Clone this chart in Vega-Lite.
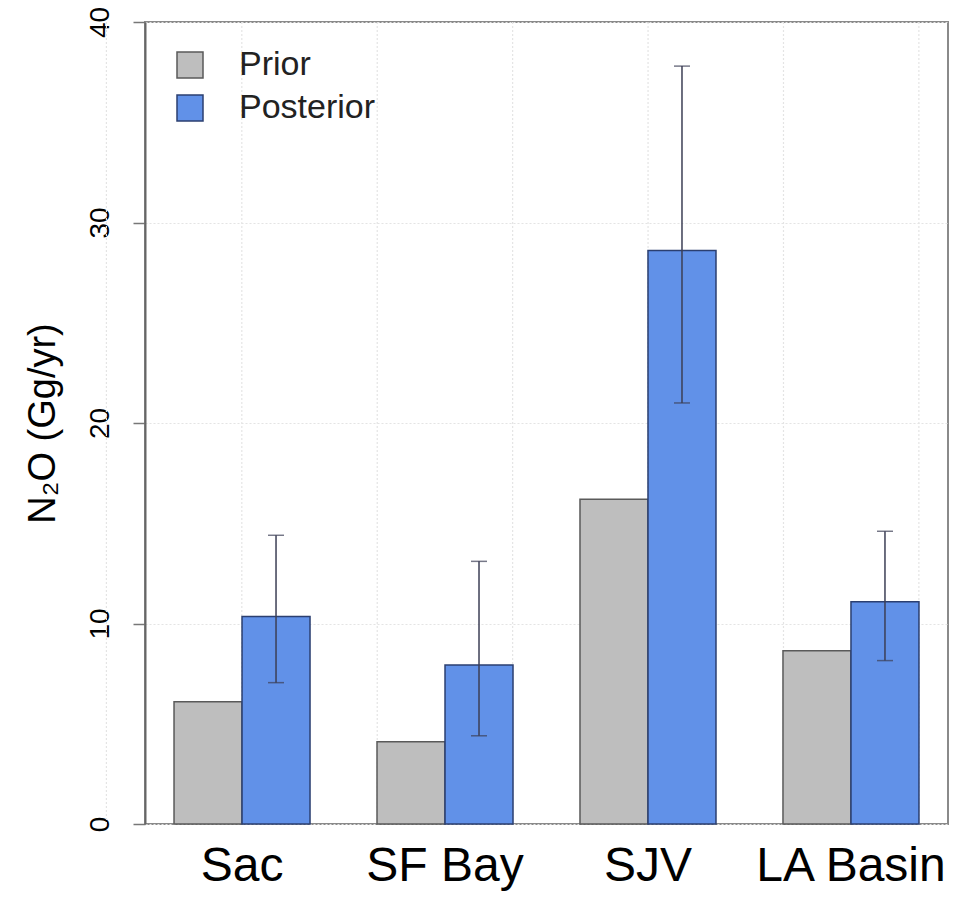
{
  "$schema": "https://vega.github.io/schema/vega-lite/v6.json",
  "width": 803,
  "height": 802,
  "autosize": "none",
  "padding": {"left": 145, "top": 22, "right": 25, "bottom": 77},
  "background": "white",
  "config": {
    "font": "Liberation Sans",
    "view": {"stroke": "#8a8a8a", "strokeWidth": 2}
  },
  "datasets": {
    "bars": [
      {"region": "Sac", "type": "Prior", "value": 6.1, "lo": null, "hi": null},
      {"region": "Sac", "type": "Posterior", "value": 10.35, "lo": 7.05, "hi": 14.4},
      {"region": "SF Bay", "type": "Prior", "value": 4.1, "lo": null, "hi": null},
      {"region": "SF Bay", "type": "Posterior", "value": 7.93, "lo": 4.4, "hi": 13.1},
      {"region": "SJV", "type": "Prior", "value": 16.2, "lo": null, "hi": null},
      {"region": "SJV", "type": "Posterior", "value": 28.6, "lo": 21.0, "hi": 37.8},
      {"region": "LA Basin", "type": "Prior", "value": 8.64, "lo": null, "hi": null},
      {"region": "LA Basin", "type": "Posterior", "value": 11.09, "lo": 8.15, "hi": 14.6}
    ],
    "grid": [{"g": 0}, {"g": 2}, {"g": 4}, {"g": 6}, {"g": 8}, {"g": 10}, {"g": 12}]
  },
  "layer": [
    {
      "data": {"name": "grid"},
      "mark": {"type": "rule", "color": "#e4e4e4", "strokeWidth": 1.2, "strokeDash": [2, 2]},
      "encoding": {
        "x": {"field": "g", "type": "quantitative", "scale": {"domain": [0.57, 12.43], "nice": false, "zero": false}, "axis": null}
      }
    },
    {
      "data": {"name": "bars"},
      "layer": [
        {
          "mark": {"type": "bar", "strokeWidth": 1.5},
          "encoding": {
            "x": {
              "field": "region", "type": "nominal", "sort": ["Sac", "SF Bay", "SJV", "LA Basin"],
              "scale": {"paddingInner": 0.33, "paddingOuter": 0.143},
              "axis": {"title": null, "domain": false, "ticks": false, "labelAngle": 0, "labelFontSize": 48, "labelColor": "#000", "labelPadding": 18, "labelLimit": 0, "labelOverlap": false, "grid": false}
            },
            "xOffset": {"field": "type", "type": "nominal", "sort": ["Prior", "Posterior"], "scale": {"domain": ["Prior", "Posterior"], "paddingInner": 0, "paddingOuter": 0}},
            "y": {
              "field": "value", "type": "quantitative",
              "scale": {"domain": [0, 40], "nice": false},
              "axis": {
                "values": [0, 10, 20, 30, 40],
                "title": "N₂O (Gg/yr)", "titleFontSize": 38, "titleFontWeight": "normal", "titleColor": "#000", "titlePadding": 24,
                "labelAngle": -90, "labelAlign": "center", "labelBaseline": "alphabetic", "labelFontSize": 28, "labelColor": "#000", "labelPadding": 25,
                "tickSize": 12, "tickColor": "#777", "tickWidth": 1.5,
                "domainColor": "#666", "domainWidth": 2,
                "grid": true, "gridColor": "#e4e4e4", "gridDash": [2, 2], "gridWidth": 1.2
              }
            },
            "fill": {
              "field": "type", "type": "nominal",
              "scale": {"domain": ["Prior", "Posterior"], "range": ["#bebebe", "#6191e8"]},
              "legend": {
                "title": null, "orient": "none", "legendX": 28, "legendY": 26,
                "symbolType": "square", "symbolSize": 676, "symbolStrokeWidth": 1.5,
                "labelFontSize": 34, "labelColor": "#222", "labelOffset": 32, "rowPadding": 9
              }
            },
            "stroke": {
              "field": "type", "type": "nominal",
              "scale": {"domain": ["Prior", "Posterior"], "range": ["#5a5a5a", "#2b3f70"]},
              "legend": {
                "title": null, "orient": "none", "legendX": 28, "legendY": 26,
                "symbolType": "square", "symbolSize": 676, "symbolStrokeWidth": 1.5,
                "labelFontSize": 34, "labelColor": "#222", "labelOffset": 32, "rowPadding": 9
              }
            }
          }
        },
        {
          "transform": [{"filter": "datum.type === 'Posterior'"}],
          "mark": {"type": "rule", "color": "#3c3f55", "strokeWidth": 1.5},
          "encoding": {
            "x": {"field": "region", "type": "nominal", "sort": ["Sac", "SF Bay", "SJV", "LA Basin"]},
            "xOffset": {"field": "type", "type": "nominal"},
            "y": {"field": "lo", "type": "quantitative"},
            "y2": {"field": "hi"}
          }
        },
        {
          "transform": [{"filter": "datum.type === 'Posterior'"}],
          "mark": {"type": "tick", "color": "#3c3f55", "size": 16, "thickness": 1.5},
          "encoding": {
            "x": {"field": "region", "type": "nominal", "sort": ["Sac", "SF Bay", "SJV", "LA Basin"]},
            "xOffset": {"field": "type", "type": "nominal"},
            "y": {"field": "lo", "type": "quantitative"}
          }
        },
        {
          "transform": [{"filter": "datum.type === 'Posterior'"}],
          "mark": {"type": "tick", "color": "#3c3f55", "size": 16, "thickness": 1.5},
          "encoding": {
            "x": {"field": "region", "type": "nominal", "sort": ["Sac", "SF Bay", "SJV", "LA Basin"]},
            "xOffset": {"field": "type", "type": "nominal"},
            "y": {"field": "hi", "type": "quantitative"}
          }
        }
      ]
    }
  ],
  "resolve": {"scale": {"x": "independent"}}
}
